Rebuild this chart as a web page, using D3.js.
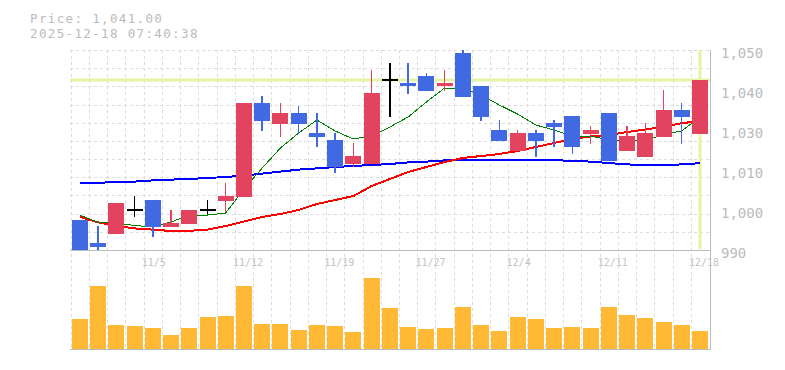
<!DOCTYPE html>
<html><head><meta charset="utf-8">
<script src="https://cdn.jsdelivr.net/npm/d3@7"></script>
<style>body{margin:0;background:#fff}svg{display:block}</style>
</head><body>
<svg id="c" width="785" height="370"></svg>
<script>
const dates = ["10/29","10/30","10/31","11/4","11/5","11/6","11/7","11/10","11/11","11/12","11/13","11/14","11/17","11/18","11/19","11/20","11/21","11/25","11/26","11/27","11/28","12/1","12/2","12/3","12/4","12/5","12/8","12/9","12/10","12/11","12/12","12/15","12/16","12/17","12/18"];
const open  = [1006.0,1000.3,1002.6,1008.4,1011.0,1004.3,1005.1,1008.4,1010.8,1011.8,1035.3,1030.1,1032.8,1027.8,1026.0,1020.1,1020.1,1040.9,1040.3,1042.0,1039.4,1047.8,1039.5,1028.5,1023.3,1027.8,1030.3,1032.0,1027.6,1032.8,1023.3,1021.8,1026.8,1033.5,1027.6];
const high  = [1006.0,1004.5,1010.3,1012.0,1011.0,1008.5,1008.5,1011.0,1015.2,1035.3,1037.1,1035.3,1034.5,1032.8,1027.7,1025.3,1043.5,1045.3,1045.3,1042.8,1043.5,1048.5,1039.5,1031.0,1028.5,1028.5,1031.0,1032.0,1029.5,1032.8,1029.5,1030.3,1038.5,1035.3,1041.0];
const low   = [998.5,998.5,1002.6,1006.8,1001.8,1004.3,1005.1,1007.6,1008.1,1011.8,1028.3,1026.8,1027.6,1024.3,1017.7,1019.3,1020.1,1031.8,1037.6,1038.3,1038.3,1036.8,1030.8,1025.8,1023.3,1021.8,1024.3,1022.6,1025.1,1020.8,1023.3,1021.8,1026.8,1025.1,1027.6];
const close = [998.5,999.3,1010.3,1008.4,1004.3,1005.3,1008.5,1008.4,1012.1,1035.3,1030.8,1032.8,1030.1,1026.8,1019.3,1022.0,1037.8,1040.9,1039.4,1038.3,1040.3,1036.8,1031.8,1025.8,1027.8,1025.8,1029.3,1024.3,1028.5,1020.8,1027.0,1027.8,1033.5,1031.8,1041.0];
const ma5   = [1007.25,1005.4,1005.3,1004.6,1004.3,1005.5,1007.25,1007.25,1007.75,1013.75,1019.0,1024.0,1027.75,1031.0,1028.25,1026.25,1027.0,1029.25,1031.75,1035.5,1039.0,1039.0,1037.25,1034.75,1032.5,1029.75,1028.5,1027.0,1027.0,1026.0,1026.0,1025.75,1027.5,1028.25,1031.75];
const ma25  = [1006.8,1005.4,1004.5,1003.9,1003.6,1003.25,1003.3,1003.6,1004.5,1005.6,1006.75,1007.5,1008.5,1010.0,1011.0,1012.0,1014.5,1016.25,1018.0,1019.25,1020.5,1021.5,1022.0,1022.5,1023.25,1024.25,1025.25,1026.25,1026.9,1027.25,1028.0,1028.6,1029.3,1030.2,1030.75];
const ma75  = [1015.2,1015.3,1015.5,1015.6,1015.9,1016.1,1016.25,1016.5,1016.75,1017.1,1017.6,1018.1,1018.6,1018.9,1019.25,1019.5,1019.75,1020.0,1020.4,1020.6,1020.9,1021.0,1021.0,1021.0,1021.0,1021.0,1021.0,1020.75,1020.6,1020.25,1019.9,1019.75,1019.7,1019.9,1020.2];
const volume = [90,189,72,69,63,42,63,96,99,189,75,75,57,72,69,51,213,123,66,60,63,126,72,54,96,90,63,66,63,126,102,93,81,72,54];
const yTickLabels = ["1,050","1,040","1,030","1,010","1,000","990"];
const xTickLabels = ["11/5","11/12","11/19","11/27","12/4","12/11","12/18"];
const titleLines = ["Price: 1,041.00","2025-12-18 07:40:38"];

const svg = d3.select("#c");
const mono = "'DejaVu Sans Mono', 'Liberation Mono', monospace";
const x = d3.scaleBand().domain(dates).range([70.7, 709.1]).padding(0);
const bw = 16;
const cx = d => x(d) + x.bandwidth() / 2;
const y = d3.scaleLinear().domain([998.5, 1048.5]).range([250, 50]);
const yv = d3.scaleLinear().domain([0, 234]).range([348.5, 270.5]);
const gridY = d3.scaleLinear().domain([0, 11]).range([50, 250]);

// grid
const g = svg.append("g").attr("stroke", "#dcdcdc").attr("stroke-dasharray", "3,3").attr("shape-rendering", "crispEdges");
d3.range(11).forEach(k => {
  const yy = Math.round(gridY(k)) + 0.5;
  g.append("line").attr("x1", 70).attr("x2", 710).attr("y1", yy).attr("y2", yy);
});
dates.forEach(d => {
  const xx = Math.round(x(d)) + 0.5;
  g.append("line").attr("x1", xx).attr("x2", xx).attr("y1", 50).attr("y2", 349);
});

// current price / date markers
const last = dates.length - 1;
svg.append("line").attr("x1", 70).attr("x2", 710).attr("y1", y(close[last])).attr("y2", y(close[last]))
  .attr("stroke", "#e2f4a6").attr("stroke-width", 3);
svg.append("line").attr("x1", cx(dates[last])).attr("x2", cx(dates[last])).attr("y1", 50).attr("y2", 249)
  .attr("stroke", "#e2f4a6").attr("stroke-width", 3);

// moving averages
const line = d3.line().x((d, i) => cx(dates[i])).y(d => y(d));
[[ma75, "#0000ff", 2], [ma25, "#ff0000", 2], [ma5, "#008000", 1]].forEach(([arr, col, w]) => {
  svg.append("path").attr("d", line(arr)).attr("fill", "none").attr("stroke", col)
    .attr("stroke-width", w).attr("shape-rendering", "crispEdges");
});

// candles
const colOf = i => close[i] > open[i] ? "#e2445f" : (close[i] < open[i] ? "#4169e1" : "#000000");
const cg = svg.append("g").attr("shape-rendering", "crispEdges");
dates.forEach((d, i) => {
  const c = colOf(i);
  cg.append("rect").attr("x", cx(d) - 0.75).attr("width", 1.5)
    .attr("y", y(high[i])).attr("height", Math.max(1, y(low[i]) - y(high[i]))).attr("fill", c);
  if (close[i] === open[i]) {
    cg.append("rect").attr("x", cx(d) - bw / 2).attr("width", bw)
      .attr("y", y(close[i]) - 1).attr("height", 2).attr("fill", c);
  } else {
    const t = y(Math.max(open[i], close[i])), b = y(Math.min(open[i], close[i]));
    cg.append("rect").attr("x", cx(d) - bw / 2).attr("width", bw)
      .attr("y", t).attr("height", Math.max(1, b - t)).attr("fill", c);
  }
});

// volume
svg.append("g").attr("shape-rendering", "crispEdges").selectAll("rect").data(volume).join("rect")
  .attr("x", (v, i) => cx(dates[i]) - bw / 2).attr("width", bw)
  .attr("y", v => yv(v)).attr("height", v => yv(0) - yv(v)).attr("fill", "#ffb935");

// frame lines
const fr = svg.append("g").attr("stroke", "#bbbbbb").attr("shape-rendering", "crispEdges");
fr.append("line").attr("x1", 70).attr("x2", 711).attr("y1", 250.5).attr("y2", 250.5);
fr.append("line").attr("x1", 70).attr("x2", 711).attr("y1", 349.5).attr("y2", 349.5);
fr.append("line").attr("x1", 710.5).attr("x2", 710.5).attr("y1", 50).attr("y2", 350);

// y axis labels
const yl = d3.scalePoint().domain(yTickLabels).range([53.5, 253.5]);
const ax = svg.append("g").attr("transform", "translate(710,0)")
  .call(d3.axisRight(yl).tickSize(0).tickPadding(11));
ax.select(".domain").remove();
ax.selectAll("text").attr("font-family", mono).attr("font-size", 14).attr("fill", "#bbbbbb");

// x labels
svg.append("g").selectAll("text").data(xTickLabels).join("text")
  .attr("x", d => cx(d) - 11).attr("y", 266)
  .attr("font-family", mono).attr("font-size", 10).attr("fill", "#c4c4c4").text(d => d);

// title
svg.append("g").selectAll("text").data(titleLines).join("text")
  .attr("x", 30).attr("y", (d, i) => 22.5 + i * 15)
  .attr("font-family", mono).attr("font-size", 12.6).attr("letter-spacing", 1.3)
  .attr("fill", "#bbbbbb").text(d => d);
</script>
</body></html>
